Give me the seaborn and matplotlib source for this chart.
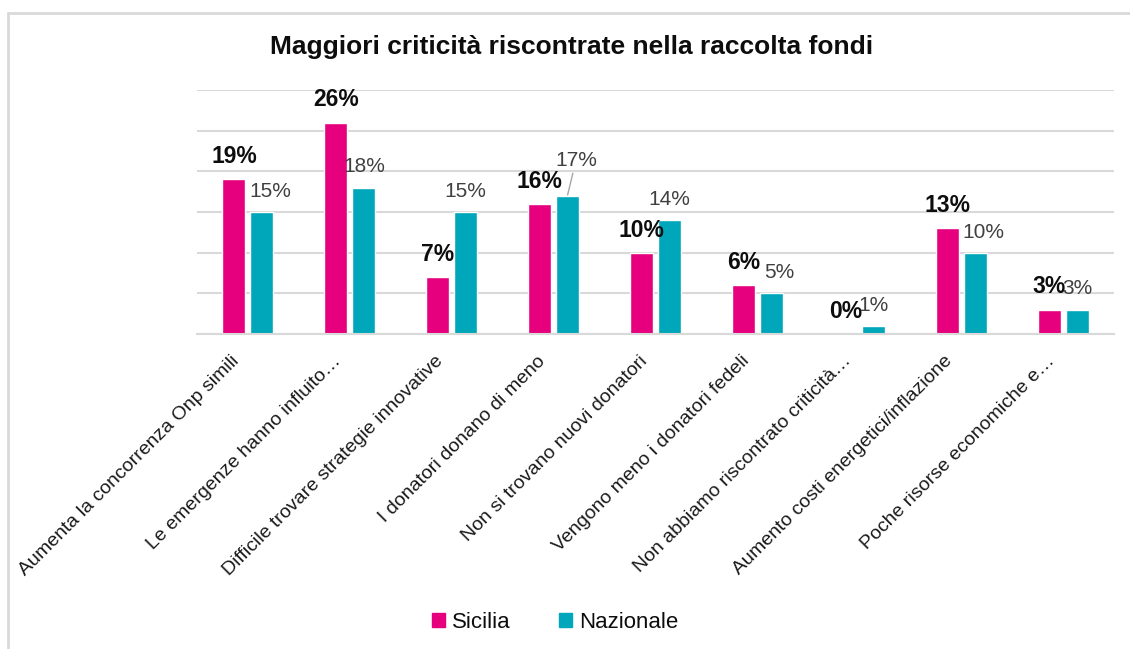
import numpy as np
import pandas as pd
import seaborn as sns
import matplotlib.pyplot as plt
from matplotlib.lines import Line2D
from matplotlib.transforms import ScaledTranslation

sns.set_style("white")
plt.rcParams['font.family'] = ['Liberation Sans', 'DejaVu Sans']

# data
categories = [
    "Aumenta la concorrenza Onp simili",
    "Le emergenze hanno influito\u2026",
    "Difficile trovare strategie innovative",
    "I donatori donano di meno",
    "Non si trovano nuovi donatori",
    "Vengono meno i donatori fedeli",
    "Non abbiamo riscontrato criticit\u00e0\u2026",
    "Aumento costi energetici/inflazione",
    "Poche risorse economiche e\u2026",
]
sicilia = [19, 26, 7, 16, 10, 6, 0, 13, 3]
nazionale = [15, 18, 15, 17, 14, 5, 1, 10, 3]
series = ["Sicilia", "Nazionale"]
colors = ["#E6007E", "#00A6BA"]

df = pd.DataFrame({
    "categoria": categories * 2,
    "valore": sicilia + nazionale,
    "serie": [series[0]] * len(categories) + [series[1]] * len(categories),
})

fig = plt.figure(figsize=(11.3, 6.49), dpi=100)
ax = fig.add_axes([197 / 1130, 1 - 334 / 649, (1114 - 197) / 1130, (334 - 90) / 649])

sns.barplot(data=df, x="categoria", y="valore", hue="serie", hue_order=series,
            palette=colors, width=0.55, gap=0.18, saturation=1, ax=ax,
            legend=False, errorbar=None)

ax.set_ylim(0, 30)
ax.set_xlim(-0.5, len(categories) - 0.5)
ax.set_yticks(np.arange(0, 31, 5))
ax.yaxis.grid(True, color="#D9D9D9", linewidth=1.5)
ax.set_axisbelow(True)
ax.tick_params(axis="y", left=False, labelleft=False)
ax.tick_params(axis="x", bottom=False, pad=4)
for s in ["top", "right", "left"]:
    ax.spines[s].set_visible(False)
ax.spines["bottom"].set_color("#D9D9D9")
ax.spines["bottom"].set_linewidth(1.5)
ax.set_xlabel("")
ax.set_ylabel("")

ax.set_xticks(range(len(categories)))
ax.set_xticklabels(categories, rotation=45, ha="right", va="top",
                   rotation_mode="anchor", fontsize=14, color="#1A1A1A")
shift = ScaledTranslation(-0.17, -0.08, fig.dpi_scale_trans)
for lab in ax.get_xticklabels():
    lab.set_transform(lab.get_transform() + shift)

# data labels
sic_bars, naz_bars = ax.containers[0], ax.containers[1]
ax.bar_label(sic_bars, labels=[f"{v}%" for v in sicilia], padding=8,
             fontsize=16.5, fontweight="bold", color="#0D0D0D")
naz_texts = ax.bar_label(naz_bars, labels=[f"{v}%" for v in nazionale], padding=8,
                         fontsize=15, color="#404040")
# a few labels sit a little right of their bar in the original
for i in (0, 5, 7):
    naz_texts[i].xyann = (6, 8)

# the 17% label was pulled up with a leader line in the original
bar = naz_bars[3]
bx = bar.get_x() + bar.get_width() / 2
naz_texts[3].set_visible(False)
ax.annotate(f"{nazionale[3]}%", xy=(bx, nazionale[3] + 0.1), xytext=(6, 18),
            textcoords="offset points", ha="center", va="bottom",
            fontsize=15, color="#404040",
            arrowprops=dict(arrowstyle="-", color="#A6A6A6", lw=1,
                            shrinkA=0, shrinkB=0))

fig.text(572 / 1130, 1 - 47 / 649, "Maggiori criticità riscontrate nella raccolta fondi",
         ha="center", va="center", fontsize=19, fontweight="bold", color="#0D0D0D")

handles = [plt.Rectangle((0, 0), 1, 1, color=c) for c in colors]
fig.legend(handles, series, loc="center", bbox_to_anchor=(555 / 1130, 1 - 622 / 649),
           ncol=2, frameon=False, fontsize=16, handlelength=0.6, handleheight=0.6,
           handletextpad=0.3, columnspacing=2.2, labelcolor="#0D0D0D")

# outer frame (only top and left edges visible in the original crop)
fig.add_artist(Line2D([8 / 1130, 1], [1 - 13 / 649, 1 - 13 / 649], color="#D9D9D9", lw=2,
                      transform=fig.transFigure))
fig.add_artist(Line2D([8 / 1130, 8 / 1130], [0, 1 - 13 / 649], color="#D9D9D9", lw=2,
                      transform=fig.transFigure))

fig.savefig("out.png", dpi=100)
